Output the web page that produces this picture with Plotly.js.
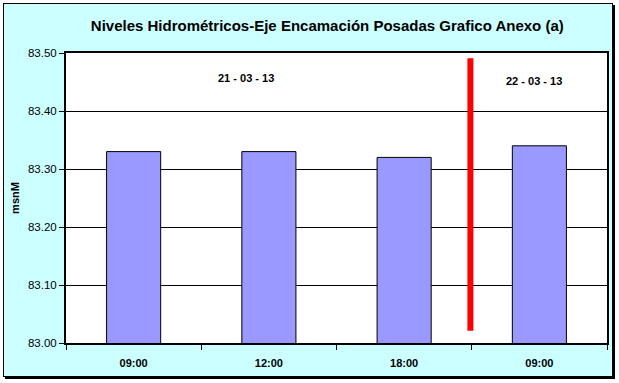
<!DOCTYPE html>
<html>
<head>
<meta charset="utf-8">
<script src="https://cdn.plot.ly/plotly-3.0.1.min.js"></script>
<style>
  html, body { margin: 0; padding: 0; background: #ffffff; }
  #frame { position: absolute; left: 3px; top: 3px; width: 608px; height: 372px;
           background: #CCFFFF; border: 1px solid #000; box-shadow: 2px 2px 0 #000; }
  #chart { position: absolute; left: 0; top: 0; width: 619px; height: 383px; }
</style>
</head>
<body>
<div id="frame"></div>
<div id="chart"></div>
<script>
// Data
const categoryPositions = [0, 1, 2, 3];
const tickLabels = ["09:00", "12:00", "18:00", "09:00"];
const levels = [83.33, 83.33, 83.32, 83.34];
const dateLabels = ["21 - 03 - 13", "22 - 03 - 13"];
const dateLabelX = [0.83, 2.96];
const dateLabelY = [83.457, 83.452];
const separatorX = [2.49, 2.49];
const separatorY = [83.021, 83.491];
const yTicks = [83.0, 83.1, 83.2, 83.3, 83.4, 83.5];

const traces = [
  {
    type: "bar",
    x: categoryPositions,
    y: levels,
    width: 0.4,
    marker: { color: "#9999FF", line: { color: "#000000", width: 1 } },
    hoverinfo: "y"
  },
  {
    type: "scatter",
    mode: "lines",
    x: separatorX,
    y: separatorY,
    line: { color: "#FF0000", width: 6 },
    hoverinfo: "skip"
  }
];

const layout = {
  width: 619,
  height: 383,
  margin: { l: 66, r: 12, t: 53, b: 40 },
  paper_bgcolor: "rgba(0,0,0,0)",
  plot_bgcolor: "#FFFFFF",
  showlegend: false,
  bargap: 0.6,
  font: { family: "Arial, Liberation Sans, sans-serif", color: "#000000", size: 11 },
  title: {
    text: "Niveles Hidrométricos-Eje Encamación Posadas Grafico Anexo (a)",
    font: { family: "Arial, Liberation Sans, sans-serif", size: 15, color: "#000000", weight: "bold" },
    xref: "paper", x: 0.483, xanchor: "center",
    yref: "container", y: 0.933, yanchor: "middle"
  },
  xaxis: {
    range: [-0.5, 3.5],
    tickmode: "array",
    tickvals: categoryPositions,
    ticktext: tickLabels,
    ticks: "",
    ticklen: 0,
    ticklabelstandoff: 9,
    tickfont: { size: 11, weight: "bold" },
    showgrid: false,
    zeroline: false,
    showline: true, linewidth: 2, linecolor: "#000", mirror: true,
    minor: { tickvals: [-0.5, 0.5, 1.5, 2.5, 3.5], ticks: "outside", ticklen: 5, tickcolor: "#000", tickwidth: 1, showgrid: false },
    fixedrange: true
  },
  yaxis: {
    range: [83.0, 83.5],
    tickmode: "array",
    tickvals: yTicks,
    ticktext: yTicks.map(v => v.toFixed(2)),
    ticks: "outside", ticklen: 5, tickcolor: "#000", tickwidth: 1,
    tickfont: { size: 11.5 },
    showgrid: true, gridcolor: "#000000", gridwidth: 1,
    zeroline: false,
    showline: true, linewidth: 2, linecolor: "#000", mirror: true,
    title: { text: "msnM", font: { size: 11, weight: "bold" }, standoff: 6 },
    fixedrange: true
  },
  annotations: dateLabels.map((t, i) => ({
    x: dateLabelX[i], y: dateLabelY[i], xref: "x", yref: "y",
    text: t, showarrow: false,
    font: { size: 11, weight: "bold", color: "#000" }
  }))
};

Plotly.newPlot("chart", traces, layout, { displayModeBar: false, staticPlot: true });
</script>
</body>
</html>
